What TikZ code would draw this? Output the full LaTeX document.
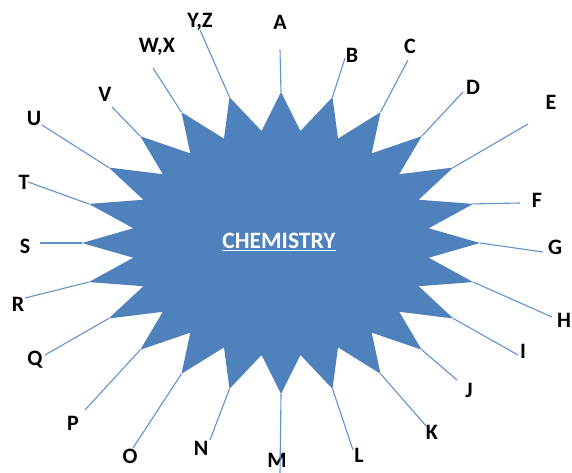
\documentclass[tikz,border=0pt]{standalone}
\usepackage{fontspec}
\newfontfamily\calfont{Carlito}
\usepackage{tikz}
\definecolor{starblue}{RGB}{79,129,189}
\definecolor{legblue}{RGB}{96,146,206}

\begin{document}
\begin{tikzpicture}[x=1pt, y=-1pt,
    leg/.style={draw=legblue, line width=1.1pt},
    lab/.style={font=\calfont\bfseries\fontsize{22}{24}\selectfont, inner sep=0pt}]
    \useasboundingbox (0,0) rectangle (572,473);

    \foreach \i in {0,...,23}{
        \coordinate (t\i) at ({281+199*cos(90-15*\i)},{243-151*sin(90-15*\i)});
        \coordinate (v\i) at ({281+149*cos(82.5-15*\i)},{243-113*sin(82.5-15*\i)});
    }
    \fill[starblue] (t0) \foreach \i in {0,...,23}{ -- (t\i) -- (v\i) } -- cycle;

    \node[text=white, font=\calfont\bfseries\fontsize{23.5}{25}\selectfont] (title) at (279,242) {\underline{CHEMISTRY}};

    \foreach \i/\txt/\lx/\ly/\ex/\ey in {0/A/280/22/280/50, 1/B/352/55/345/58, 2/C/410/46/408/60,
        3/D/473/87/463/92, 4/E/551/102/528/124, 5/F/537/200/520/203, 6/G/555/247/543/252,
        7/H/564/320/552/317, 8/I/523/351/518/355, 9/J/469/390/457/380, 10/K/432/432/427/427,
        11/L/359/455/353/450, 12/M/277/460/280/473, 13/N/201/448/210/440, 14/O/130/456/133/448,
        15/P/73/423/85/410, 16/Q/35/360/45/355, 17/R/18/304/25/298, 18/S/25/246/40/243,
        19/T/24/182/28/182, 20/U/34/118/42/125, 21/V/105/94/112/107, 22/{W,X}/157/47/153/68,
        23/{Y,Z}/200/22/200/30}{
        \node[lab] (l\i) at (\lx,\ly) {\txt};
        \coordinate (e\i) at (\ex,\ey);
        \draw[leg] (t\i) -- (e\i);
    }
\end{tikzpicture}
\end{document}
